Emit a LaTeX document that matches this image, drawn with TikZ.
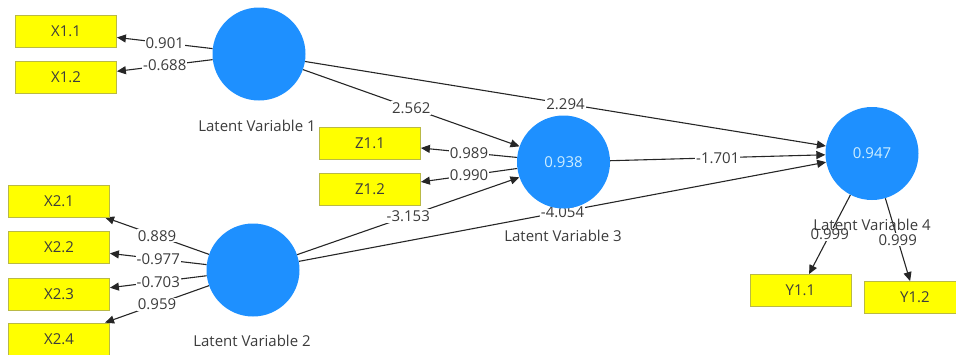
\documentclass[tikz,border=0pt]{standalone}
\usepackage{fontspec}
\setmainfont{Open Sans}
\usetikzlibrary{arrows.meta,backgrounds}
\definecolor{lvblue}{RGB}{30,144,255}
\definecolor{boxyellow}{RGB}{255,255,0}
\definecolor{boxline}{RGB}{185,185,70}
\definecolor{txt}{RGB}{60,60,60}
\definecolor{lvtxt}{RGB}{205,238,255}
\begin{document}
\begin{tikzpicture}[x=1pt,y=-1pt,
  font=\fontsize{15}{17}\selectfont, text=txt,
  ind/.style={draw=boxline, fill=boxyellow, minimum width=101pt, minimum height=32pt, inner sep=0pt, line width=0.8pt},
  lv/.style={circle, fill=lvblue, minimum size=93pt, inner sep=0pt, text=lvtxt},
  lvname/.style={inner sep=0pt},
  conn/.style={draw=black!85, line width=1.1pt, -{Triangle[length=9pt,width=8pt]}},
  wt/.style={fill=white, inner sep=1pt, midway},
]
\useasboundingbox (0,0) rectangle (956,354);
\clip (0,0) rectangle (956,354);
% indicators
\node[ind] (x11) at (66,31.5) {X1.1};
\node[ind] (x12) at (66,77.5) {X1.2};
\node[ind] (x21) at (59,201) {X2.1};
\node[ind] (x22) at (59,247.5) {X2.2};
\node[ind] (x23) at (59,294) {X2.3};
\node[ind] (x24) at (59,339) {X2.4};
\node[ind] (z11) at (370,143) {Z1.1};
\node[ind] (z12) at (370,189) {Z1.2};
\node[ind] (y11) at (800.5,290.5) {Y1.1};
\node[ind] (y12) at (915,297.5) {Y1.2};
% latent variables
\node[lv] (lv1) at (259,54) {};
\node[lv] (lv2) at (253,270) {};
\node[lv] (lv3) at (563.5,162) {0.938};
\node[lv] (lv4) at (872,153.5) {0.947};
\node[lvname] (n1) at (257,126) {Latent Variable 1};
\node[lvname] (n2) at (252,341) {Latent Variable 2};
\node[lvname] (n3) at (563,236) {Latent Variable 3};
\node[lvname] (n4) at (872,225) {Latent Variable 4};
\begin{pgfonlayer}{background}
\draw[conn] (lv1) -- node[wt]{0.901} (x11);
\draw[conn] (lv1) -- node[wt]{-0.688} (x12);
\draw[conn] (lv2) -- node[wt]{0.889} (x21);
\draw[conn] (lv2) -- node[wt]{-0.977} (x22);
\draw[conn] (lv2) -- node[wt]{-0.703} (x23);
\draw[conn] (lv2) -- node[wt]{0.959} (x24);
\draw[conn] (lv3) -- node[wt]{0.989} (z11);
\draw[conn] (lv3) -- node[wt]{0.990} (z12);
\draw[conn] (lv4) -- node[wt]{0.999} (y11);
\draw[conn] (lv4) -- node[wt]{0.999} (y12);
\draw[conn] (lv1) -- node[wt]{2.562} (lv3);
\draw[conn] (lv1) -- node[wt]{2.294} (lv4);
\draw[conn] (lv2) -- node[wt]{-3.153} (lv3);
\draw[conn] (lv2) -- node[wt]{-4.054} (lv4);
\draw[conn] (lv3) -- node[wt]{-1.701} (lv4);
\end{pgfonlayer}
\end{tikzpicture}
\end{document}
